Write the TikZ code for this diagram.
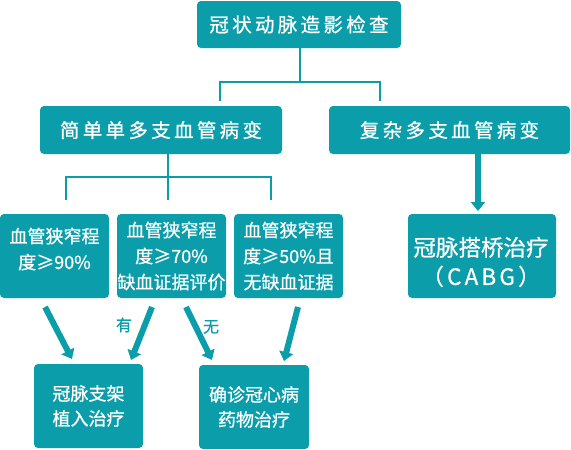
\documentclass[tikz,border=0pt]{standalone}
\usepackage{fontspec}
\setmainfont{Noto Sans CJK SC}[FakeBold=0.8]
\usetikzlibrary{arrows.meta,calc}
\definecolor{teal1}{HTML}{0B9DA9}
\tikzset{
  box/.style={fill=teal1, rounded corners=4pt, text=white, inner sep=0pt, align=center},
  bigtxt/.style={font={\fontsize{19.5}{24}\selectfont\addfontfeature{LetterSpace=17}}},
  smalltxt/.style={font={\fontsize{18}{26}\selectfont}},
  thin/.style={draw=teal1, line width=2pt},
  fat/.style={draw=teal1, line width=6pt, -{Triangle[width=14pt,length=9pt]}},
  lab/.style={text=teal1, font={\fontsize{16}{16}\selectfont}}
}
\begin{document}
\begin{tikzpicture}[x=1pt,y=-1pt]
\useasboundingbox (0,0) rectangle (571,450);
% boxes
\node[box,bigtxt,minimum width=204pt,minimum height=47pt] (top) at (299,24.5) {冠状动脉造影检查};
\node[box,bigtxt,minimum width=242pt,minimum height=48pt] (left) at (161,130) {简单单多支血管病变};
\node[box,bigtxt,minimum width=241pt,minimum height=48pt] (right) at (449.5,130) {复杂多支血管病变};
\node[box,minimum width=109pt,minimum height=84pt] (b1) at (54.5,256) {};
\node[smalltxt,text=white,align=center,inner sep=0pt] (b1t) at (54.5,249) {血管狭窄程\\度≥90\%};
\node[box,smalltxt,minimum width=109pt,minimum height=84pt] (b2) at (171.5,256) {血管狭窄程\\度≥70\%\\缺血证据评价};
\node[box,smalltxt,minimum width=109pt,minimum height=84pt] (b3) at (288.5,256) {血管狭窄程\\度≥50\%且\\无缺血证据};
\node[box,minimum width=148pt,minimum height=84pt] (cabg) at (482,256) {};
\node[text=white,align=center,inner sep=0pt,font={\fontsize{22.5}{29}\selectfont}] (cabgt) at (481,262) {冠脉搭桥治疗\\{\addfontfeature{LetterSpace=14}（CABG）}};
\node[box,minimum width=109pt,minimum height=84pt,font={\fontsize{18}{25}\selectfont}] (sA) at (88.5,406) {冠脉支架\\植入治疗};
\node[box,minimum width=110pt,minimum height=84pt,font={\fontsize{18}{25}\selectfont}] (sB) at (254,407) {确诊冠心病\\药物治疗};
% tree connectors
\coordinate (j1) at (300,82);
\coordinate (l1) at (220,101);
\coordinate (r1) at (380,101);
\draw[thin] (top.south -| j1) -- (j1);
\draw[thin] (l1) |- (j1) -| (r1);
\coordinate (j2) at (168,177);
\coordinate (m1) at (66,200);
\coordinate (m2) at (168,200);
\coordinate (m3) at (271,200);
\draw[thin] (left.south -| j2) -- (m2);
\draw[thin] (m1) |- (j2) -| (m3);
% thick arrows
\coordinate (k) at (478,211);
\draw[fat] (right.south -| k) -- (k);
\coordinate (a1s) at (45,307); \coordinate (a1e) at (72,359);
\coordinate (a2s) at (152,307); \coordinate (a2e) at (131,360);
\coordinate (a3s) at (186,307); \coordinate (a3e) at (212,360);
\coordinate (a4s) at (298,307); \coordinate (a4e) at (284,361);
\draw[fat] (a1s) -- (a1e);
\draw[fat] (a2s) -- (a2e);
\draw[fat] (a3s) -- (a3e);
\draw[fat] (a4s) -- (a4e);
\node[lab] (you) at (124,325) {有};
\node[lab] (wu) at (211,327) {无};
\end{tikzpicture}
\end{document}
